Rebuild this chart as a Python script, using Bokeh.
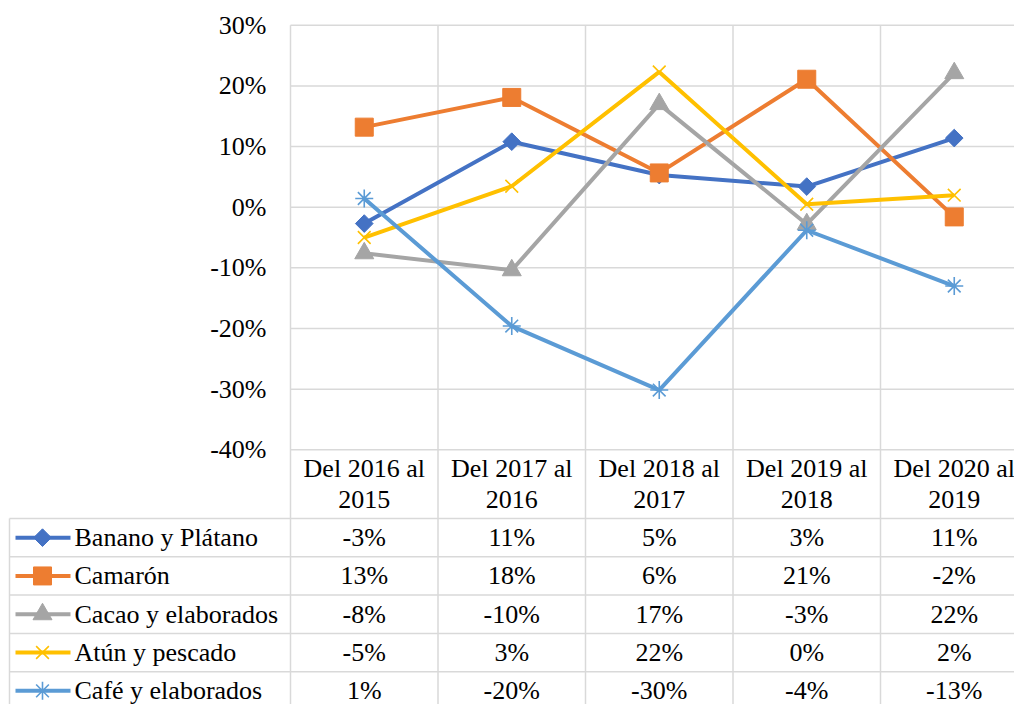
import math
from bokeh.plotting import figure
from bokeh.models import Range1d
from bokeh.embed import file_html
from bokeh.resources import INLINE
from bokeh.core.properties import value

# ---------------- data ----------------
categories = ["Del 2016 al\n2015", "Del 2017 al\n2016", "Del 2018 al\n2017",
              "Del 2019 al\n2018", "Del 2020 al\n2019"]
series_names = ["Banano y Plátano", "Camarón", "Cacao y elaborados",
                "Atún y pescado", "Café y elaborados"]
banano = [-0.027, 0.108, 0.053, 0.034, 0.114]
camaron = [0.132, 0.181, 0.0565, 0.211, -0.016]
cacao = [-0.076, -0.104, 0.170, -0.028, 0.221]
atun = [-0.050, 0.0346, 0.223, 0.0049, 0.0198]
cafe = [0.0143, -0.196, -0.3015, -0.038, -0.130]
y_ticks = [-0.4, -0.3, -0.2, -0.1, 0.0, 0.1, 0.2, 0.3]

series_values = [banano, camaron, cacao, atun, cafe]

# ---------------- style ----------------
colors = ["#4472c4", "#ed7d31", "#a5a5a5", "#ffc000", "#5b9bd5"]
marker_styles = [
    dict(marker="square", size=12.5, angle=math.pi / 4, line_width=1),
    dict(marker="square", size=18, angle=0.0, line_width=1),
    dict(marker="triangle", size=19, angle=0.0, line_width=1),
    dict(marker="x", size=18, angle=0.0, line_width=1.6),
    dict(marker="asterisk", size=18, angle=0.0, line_width=1.6),
]
FONT = "Liberation Serif"
FS = "26px"
GRID_C = "#d9d9d9"
GRID_W = 1.5
LINE_W = 4

# layout constants (picture pixels)
LEFT = 290.0      # left edge of plot columns
COL_W = 147.5     # width of a category column
ZERO_Y = 206.7    # y of 0%
PPU = 606.5       # pixels per unit (100%)
TABLE_TOP = 518.0
ROW_H = 38.3
TBL_LEFT = 9.0
W = 1014
H = 704


def xd(px):
    return -0.5 + (px - LEFT) / COL_W


def yd(py):
    return (ZERO_Y - py) / PPU


n = len(categories)
xs = list(range(n))
right_edge = n - 0.5

p = figure(width=W, height=H,
           x_range=Range1d(xd(0), xd(W)),
           y_range=Range1d(yd(H), yd(0)),
           x_axis_location=None, y_axis_location=None,
           output_backend="svg", toolbar_location=None, min_border=0)
p.outline_line_color = None
p.xgrid.visible = False
p.ygrid.visible = False
p.background_fill_color = "white"
p.border_fill_color = "white"

# horizontal gridlines of the chart
p.segment(x0=[-0.5] * len(y_ticks), y0=y_ticks, x1=[right_edge] * len(y_ticks), y1=y_ticks,
          line_color=GRID_C, line_width=GRID_W)
# column separators (chart + table)
vx = [i - 0.5 for i in range(n + 1)]
p.segment(x0=vx, y0=[max(y_ticks)] * len(vx), x1=vx, y1=[yd(H + 10)] * len(vx),
          line_color=GRID_C, line_width=GRID_W)
# table rows
nrows = len(series_names)
edges = [yd(TABLE_TOP + ROW_H * r) for r in range(nrows + 1)]
p.segment(x0=[xd(TBL_LEFT)] * len(edges), y0=edges, x1=[right_edge] * len(edges), y1=edges,
          line_color=GRID_C, line_width=GRID_W)
p.segment(x0=[xd(TBL_LEFT)], y0=[yd(TABLE_TOP)], x1=[xd(TBL_LEFT)], y1=[yd(H + 10)],
          line_color=GRID_C, line_width=GRID_W)

# y tick labels
tick_labels = [f"{round(t * 100):.0f}%" for t in y_ticks]
p.text(x=[xd(266)] * len(y_ticks), y=y_ticks, text=tick_labels,
       text_align="right", text_baseline="middle",
       text_font=value(FONT), text_font_size=FS, text_color="black")

# series
for vals, c, ms in zip(series_values, colors, marker_styles):
    p.line(xs, vals, line_color=c, line_width=LINE_W)
    p.scatter(xs, vals, marker=ms["marker"], size=ms["size"], angle=ms["angle"],
              fill_color=c, line_color=c, line_width=ms["line_width"])

# header (category names)
line1 = [c.split("\n")[0] for c in categories]
line2 = [c.split("\n")[1] for c in categories]
p.text(x=xs, y=[yd(468)] * n, text=line1, text_align="center", text_baseline="middle",
       text_font=value(FONT), text_font_size=FS, text_color="black")
p.text(x=xs, y=[yd(499)] * n, text=line2, text_align="center", text_baseline="middle",
       text_font=value(FONT), text_font_size=FS, text_color="black")

# table rows
for r, (name, vals, c, ms) in enumerate(zip(series_names, series_values, colors, marker_styles)):
    yc = TABLE_TOP + ROW_H * (r + 0.5)
    p.line([xd(15), xd(70)], [yd(yc), yd(yc)], line_color=c, line_width=LINE_W)
    p.scatter([xd(42)], [yd(yc)], marker=ms["marker"], size=ms["size"], angle=ms["angle"],
              fill_color=c, line_color=c, line_width=ms["line_width"])
    p.text(x=[xd(74)], y=[yd(yc)], text=[name], text_align="left",
           text_baseline="middle",
           text_font=value(FONT), text_font_size=FS, text_color="black")
    labels = [f"{round(v * 100):.0f}%" for v in vals]
    p.text(x=xs, y=[yd(yc)] * n, text=labels, text_align="center",
           text_baseline="middle",
           text_font=value(FONT), text_font_size=FS, text_color="black")

open("out.html", "w").write(file_html(p, INLINE))
